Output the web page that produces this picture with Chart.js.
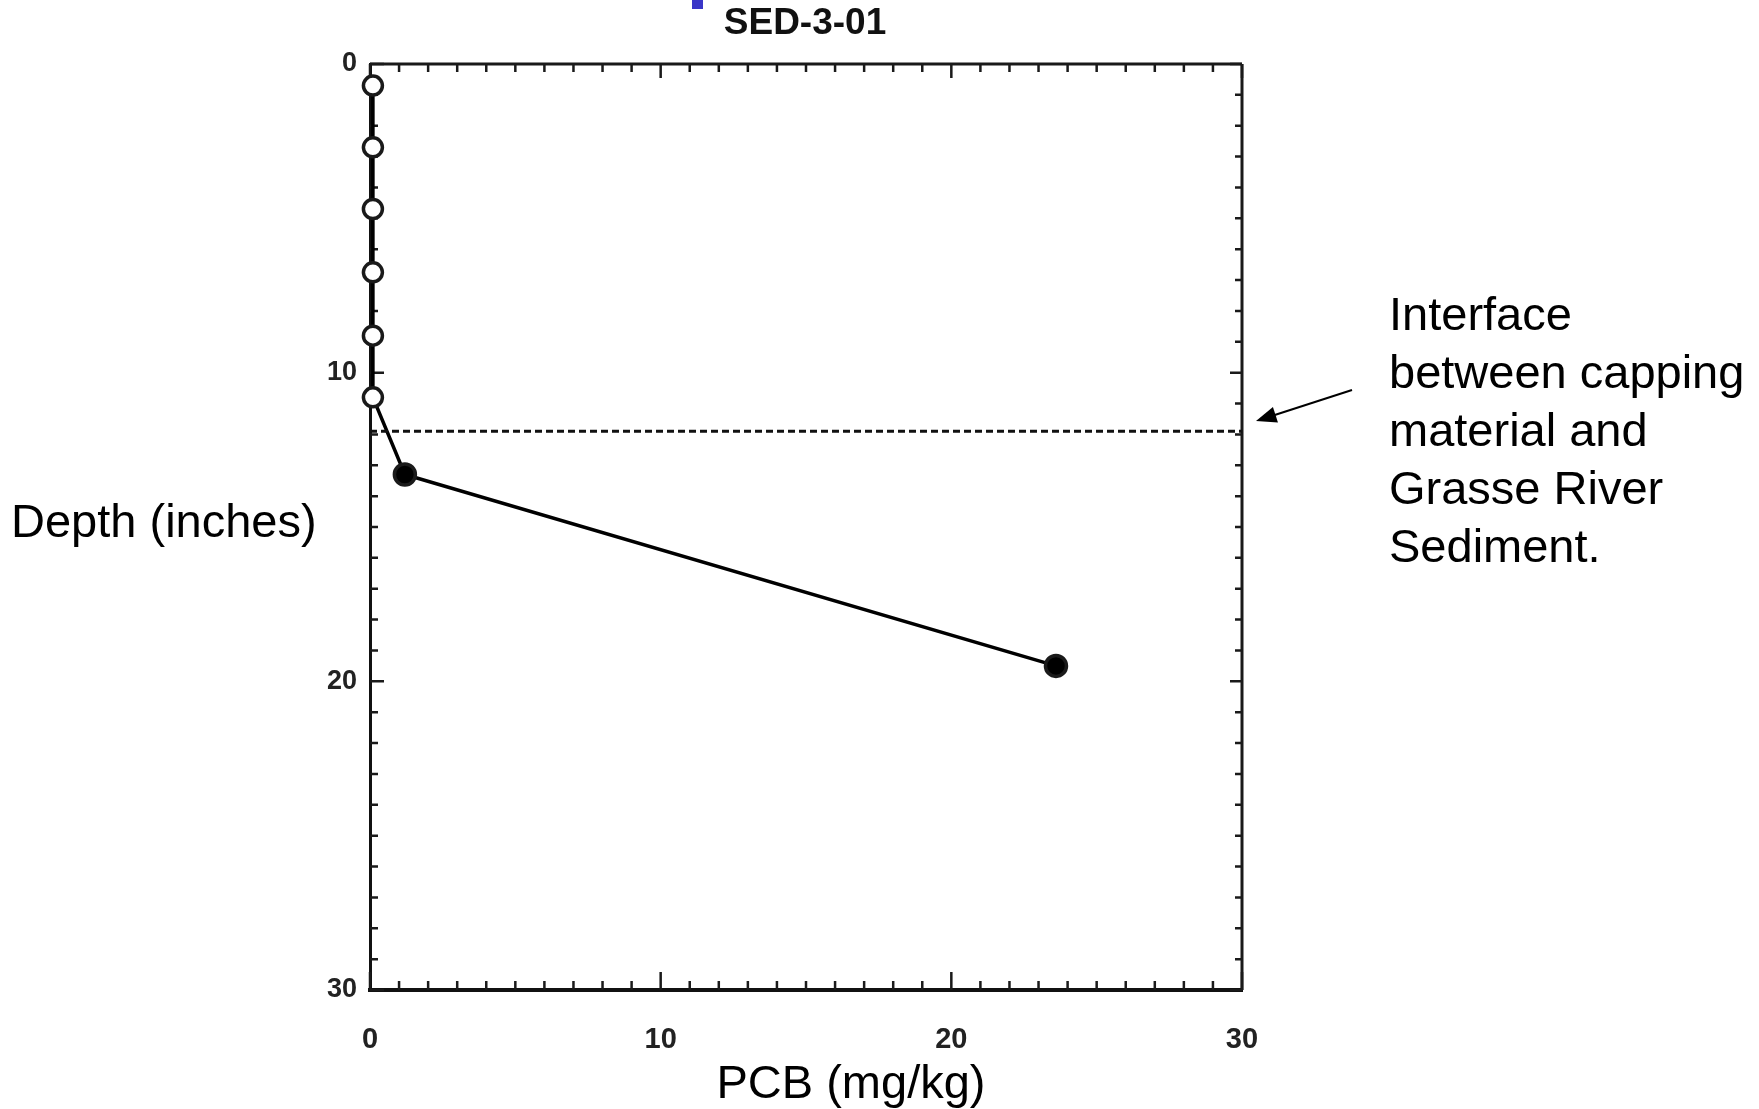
<!DOCTYPE html>
<html>
<head>
<meta charset="utf-8">
<script src="https://cdn.jsdelivr.net/npm/chart.js@4.4.1/dist/chart.umd.min.js"></script>
<style>
  html, body { margin: 0; padding: 0; background: #fff; }
  #wrap { position: relative; width: 1759px; height: 1109px; }
</style>
</head>
<body>
<div id="wrap"><canvas id="chart"></canvas></div>
<script>
// PCB concentration vs depth, core SED-3-01
const pcbValues   = [0.1, 0.1, 0.1, 0.1, 0.1, 0.1, 1.2, 23.6];
const depthValues = [0.7, 2.7, 4.7, 6.75, 8.8, 10.8, 13.3, 19.5];
const detected    = [false, false, false, false, false, false, true, true];

// capping / sediment interface
const interfacePcb   = [0, 30];
const interfaceDepth = [11.9, 11.9];

const xTicks = [0, 10, 20, 30];
const yTicks = [0, 10, 20, 30];

const titleText = 'SED-3-01';
const yTitle = 'Depth (inches)';
const xTitle = 'PCB (mg/kg)';
const noteLines = ['Interface', 'between capping', 'material and', 'Grasse River', 'Sediment.'];

const points = pcbValues.map((v, i) => ({ x: v, y: depthValues[i] }));
const ifacePoints = interfacePcb.map((v, i) => ({ x: v, y: interfaceDepth[i] }));

// frame + inward ticks on all four sides
const framePlugin = {
  id: 'frame',
  beforeDatasetsDraw(chart) {
    const { ctx, chartArea: a, scales } = chart;
    const xs = scales.x, ys = scales.y;
    ctx.save();
    ctx.strokeStyle = '#1a1a1a';
    ctx.lineWidth = 3;
    ctx.beginPath();
    ctx.moveTo(a.left, a.top); ctx.lineTo(a.right, a.top);
    ctx.moveTo(a.right, a.top); ctx.lineTo(a.right, a.bottom);
    ctx.stroke();
    ctx.lineWidth = 2.5;
    for (let v = 0; v <= 30; v++) {
      const big = v % 10 === 0;
      const px = xs.getPixelForValue(v);
      const py = ys.getPixelForValue(v);
      ctx.beginPath();
      ctx.moveTo(px, a.bottom); ctx.lineTo(px, a.bottom - (big ? 18 : 9));
      ctx.moveTo(px, a.top); ctx.lineTo(px, a.top + (big ? 14 : 8));
      ctx.moveTo(a.left, py); ctx.lineTo(a.left + (big ? 14 : 8), py);
      ctx.moveTo(a.right, py); ctx.lineTo(a.right - (big ? 12 : 7), py);
      ctx.stroke();
    }
    ctx.restore();
  },
  afterDraw(chart) {
    const { ctx } = chart;
    ctx.save();
    ctx.fillStyle = '#3a36c8';
    ctx.fillRect(692, 0, 11, 9);

    ctx.fillStyle = '#111';
    ctx.font = 'bold 37px "Liberation Sans", Arial, sans-serif';
    ctx.textAlign = 'center';
    ctx.textBaseline = 'middle';
    ctx.fillText(titleText, 805, 24);

    ctx.fillStyle = '#000';
    ctx.font = '47px "Liberation Sans", Arial, sans-serif';
    ctx.textAlign = 'left';
    ctx.fillText(yTitle, 11, 524);
    ctx.textAlign = 'center';
    ctx.fillText(xTitle, 851, 1085);

    ctx.textAlign = 'left';
    noteLines.forEach((t, i) => ctx.fillText(t, 1389, 317 + i * 58));

    // arrow pointing at the interface line
    const x0 = 1352, y0 = 390, x1 = 1256, y1 = 421;
    const ang = Math.atan2(y1 - y0, x1 - x0);
    ctx.strokeStyle = '#000';
    ctx.lineWidth = 2;
    ctx.beginPath();
    ctx.moveTo(x0, y0);
    ctx.lineTo(x1 - 14 * Math.cos(ang), y1 - 14 * Math.sin(ang));
    ctx.stroke();
    ctx.beginPath();
    ctx.moveTo(x1, y1);
    ctx.lineTo(x1 - 22 * Math.cos(ang - 0.38), y1 - 22 * Math.sin(ang - 0.38));
    ctx.lineTo(x1 - 22 * Math.cos(ang + 0.38), y1 - 22 * Math.sin(ang + 0.38));
    ctx.closePath();
    ctx.fill();
    ctx.restore();
  }
};

const ctx = document.getElementById('chart').getContext('2d');
new Chart(ctx, {
  type: 'scatter',
  data: {
    datasets: [
      {
        label: 'interface',
        data: ifacePoints,
        showLine: true,
        borderColor: '#111',
        borderWidth: 3,
        borderDash: [7, 4],
        pointRadius: 0,
        clip: false
      },
      {
        label: 'PCB',
        data: points,
        showLine: true,
        borderColor: '#000',
        borderWidth: 3.5,
        pointRadius: detected.map(d => d ? 10.5 : 9.5),
        pointBorderWidth: 3.5,
        pointBorderColor: '#1a1a1a',
        pointBackgroundColor: detected.map(d => d ? '#000' : '#fff'),
        clip: false
      }
    ]
  },
  options: {
    responsive: true,
    maintainAspectRatio: false,
    animation: false,
    layout: { padding: { left: 0, top: 64, right: 517, bottom: 0 } },
    scales: {
      x: {
        type: 'linear',
        min: 0,
        max: 30,
        afterFit: (s) => { s.height = 119; },
        afterBuildTicks: (s) => { s.ticks = xTicks.map(v => ({ value: v })); },
        grid: { display: false, drawTicks: false },
        border: { display: true, color: '#111', width: 4 },
        ticks: {
          padding: 33,
          color: '#222',
          font: { family: '"Liberation Sans", Arial, sans-serif', size: 29, weight: 'bold' }
        }
      },
      y: {
        type: 'linear',
        reverse: true,
        min: 0,
        max: 30,
        afterFit: (s) => { s.width = 370; },
        afterBuildTicks: (s) => { s.ticks = yTicks.map(v => ({ value: v })); },
        grid: { display: false, drawTicks: false },
        border: { display: true, color: '#111', width: 3 },
        ticks: {
          padding: 13,
          color: '#222',
          font: { family: '"Liberation Sans", Arial, sans-serif', size: 27, weight: 'bold' }
        }
      }
    },
    plugins: {
      legend: { display: false },
      tooltip: { enabled: false }
    }
  },
  plugins: [framePlugin]
});
</script>
</body>
</html>
